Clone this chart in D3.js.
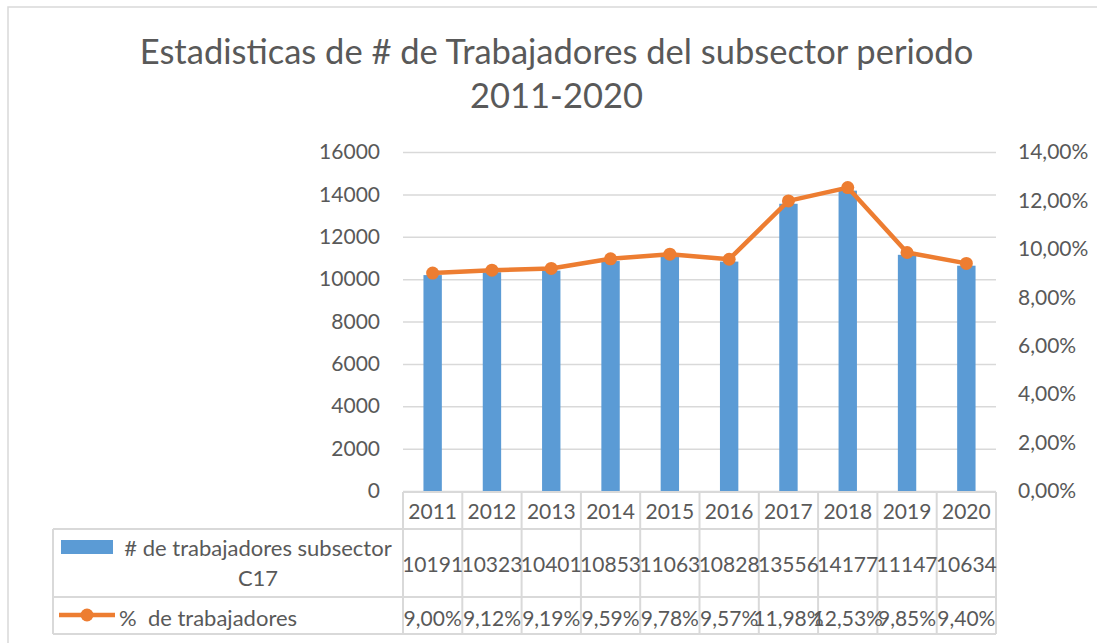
<!DOCTYPE html>
<html>
<head>
<meta charset="utf-8">
<script src="https://cdn.jsdelivr.net/npm/d3@7"></script>
<style>
  html, body { margin: 0; padding: 0; background: #fff; }
  svg { display: block; }
  text { font-family: Lato, "Open Sans", sans-serif; fill: #595959; }
</style>
</head>
<body>
<svg id="chart" width="1097" height="643"></svg>
<script>
const years = ["2011","2012","2013","2014","2015","2016","2017","2018","2019","2020"];
const workers = [10191,10323,10401,10853,11063,10828,13556,14177,11147,10634];
const percent = [9.00,9.12,9.19,9.59,9.78,9.57,11.98,12.53,9.85,9.40];
const leftTicks = [0,2000,4000,6000,8000,10000,12000,14000,16000];
const rightTicks = [0,2,4,6,8,10,12,14];
const titleLines = ["Estadisticas de # de Trabajadores del subsector periodo", "2011-2020"];
const seriesNames = ["# de trabajadores subsector", "C17", "%  de trabajadores"];

const BLUE = "#5B9BD5", ORANGE = "#ED7D31", GRID = "#D9D9D9";
const svg = d3.select("#chart");

// outer chart border
svg.append("rect").attr("x", 8).attr("y", 7).attr("width", 1200).attr("height", 800)
  .attr("fill", "none").attr("stroke", GRID).attr("stroke-width", 1.5);

// title
const title = svg.append("g");
titleLines.forEach((t, i) => {
  title.append("text").attr("x", 556.5).attr("y", 64 + i * 44)
    .attr("text-anchor", "middle").style("font-size", "34.5px").text(t);
});

const L = 403, R = 996, T = 152, B = 491;
const x = d3.scaleBand().domain(years).range([L, R]);
const yL = d3.scaleLinear().domain([0, 16000]).range([B, T]);
const yR = d3.scaleLinear().domain([0, 14]).range([B, T]);

// gridlines
const grid = svg.append("g").attr("transform", `translate(${L},0)`)
  .call(d3.axisLeft(yL).tickValues(leftTicks).tickSize(-(R - L)).tickFormat(""));
grid.select(".domain").remove();
grid.selectAll("line").attr("stroke", GRID).attr("stroke-width", 1.5);

// left axis labels
const ax = svg.append("g").attr("transform", `translate(${L},0)`)
  .call(d3.axisLeft(yL).tickValues(leftTicks).tickSize(0).tickPadding(23).tickFormat(d3.format("d")));
ax.select(".domain").remove();
ax.selectAll("text").style("font-size", "21px").attr("fill", "#595959").style("font-family", "Lato");

// right axis labels
const fmtPct = d => d.toFixed(2).replace(".", ",") + "%";
const axr = svg.append("g").attr("transform", `translate(${R},0)`)
  .call(d3.axisRight(yR).tickValues(rightTicks).tickSize(0).tickPadding(22).tickFormat(fmtPct));
axr.select(".domain").remove();
axr.selectAll("text").style("font-size", "21px").attr("fill", "#595959").style("font-family", "Lato");

// bars
const bw = x.bandwidth() * 0.31;
svg.append("g").selectAll("rect").data(years).join("rect")
  .attr("x", (d) => x(d) + x.bandwidth() / 2 - bw / 2)
  .attr("y", (d, i) => yL(workers[i]))
  .attr("width", bw)
  .attr("height", (d, i) => B - yL(workers[i]))
  .attr("fill", BLUE);

// line
const line = d3.line().x((d, i) => x(years[i]) + x.bandwidth() / 2).y(d => yR(d));
svg.append("path").datum(percent).attr("d", line).attr("fill", "none")
  .attr("stroke", ORANGE).attr("stroke-width", 4.5).attr("stroke-linejoin", "round");
svg.append("g").selectAll("circle").data(percent).join("circle")
  .attr("cx", (d, i) => x(years[i]) + x.bandwidth() / 2)
  .attr("cy", d => yR(d)).attr("r", 6.5).attr("fill", ORANGE);

// data table
const rows = [492, 529, 597, 634];
const tbl = svg.append("g").attr("stroke", GRID).attr("stroke-width", 2);
rows.forEach((ry, i) => {
  tbl.append("line").attr("x1", i === 0 ? L : 53).attr("x2", R).attr("y1", ry).attr("y2", ry);
});
x.domain().forEach(d => {
  tbl.append("line").attr("x1", x(d)).attr("x2", x(d)).attr("y1", 492).attr("y2", 634);
});
tbl.append("line").attr("x1", R).attr("x2", R).attr("y1", 492).attr("y2", 634);
tbl.append("line").attr("x1", 53).attr("x2", 53).attr("y1", 529).attr("y2", 634);

const cell = svg.append("g").style("font-size", "21px").attr("text-anchor", "middle");
years.forEach((d, i) => {
  const cx = x(d) + x.bandwidth() / 2;
  cell.append("text").attr("x", cx).attr("y", 510).attr("dominant-baseline", "central").text(d);
  cell.append("text").attr("x", cx).attr("y", 563).attr("dominant-baseline", "central").text(workers[i]);
  cell.append("text").attr("x", cx).attr("y", 617).attr("dominant-baseline", "central").text(fmtPct(percent[i]));
});

// legend keys
const lg = svg.append("g").style("font-size", "22px");
lg.append("rect").attr("x", 61).attr("y", 540).attr("width", 52).attr("height", 14).attr("fill", BLUE);
lg.append("text").attr("x", 258).attr("y", 547).attr("text-anchor", "middle").attr("dominant-baseline", "central").text(seriesNames[0]);
lg.append("text").attr("x", 258).attr("y", 577).attr("text-anchor", "middle").attr("dominant-baseline", "central").text(seriesNames[1]);
lg.append("line").attr("x1", 59).attr("x2", 115).attr("y1", 615).attr("y2", 615).attr("stroke", ORANGE).attr("stroke-width", 4.5);
lg.append("circle").attr("cx", 87).attr("cy", 615).attr("r", 6.5).attr("fill", ORANGE);
lg.append("text").attr("x", 119).attr("y", 617).attr("dominant-baseline", "central").style("white-space", "pre").attr("xml:space", "preserve").text(seriesNames[2]);
</script>
</body>
</html>
